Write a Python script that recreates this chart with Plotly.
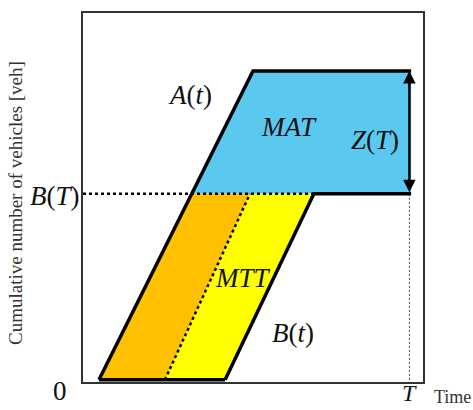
import numpy as np
import plotly.graph_objects as go

# ---- data (arbitrary schematic units) ----
A_t = [0.47, 5.00, 9.65]      # arrival curve A(t): times
A_n = [0.00, 8.37, 8.37]      # cumulative arrivals
B_t = [4.18, 6.79, 9.65]      # departure curve B(t): times
B_n = [0.00, 5.04, 5.04]      # cumulative departures
MTT_t = [2.41, 4.91]          # dotted separator (MTT boundary)
MTT_n = [0.00, 5.04]
T_val = 9.60                  # end time T
BT_val = 5.04                 # B(T)

cross_t = float(np.interp(BT_val, A_n[:2], A_t[:2]))  # where A(t) reaches B(T)

BLUE = "#5BC8F0"
ORANGE = "#FFC000"
YELLOW = "#FFFF00"
MATHFONT = dict(family="Liberation Serif", size=27, color="#111111")

fig = go.Figure()

# fills
fig.add_trace(go.Scatter(x=[cross_t, A_t[1], A_t[2], B_t[2]],
                         y=[BT_val, A_n[1], A_n[2], B_n[2]],
                         fill="toself", fillcolor=BLUE, mode="none", hoverinfo="skip"))
fig.add_trace(go.Scatter(x=[A_t[0], MTT_t[0], MTT_t[1], cross_t],
                         y=[0, MTT_n[0], MTT_n[1], BT_val],
                         fill="toself", fillcolor=ORANGE, mode="none", hoverinfo="skip"))
fig.add_trace(go.Scatter(x=[MTT_t[0], B_t[0], B_t[1], MTT_t[1]],
                         y=[MTT_n[0], B_n[0], B_n[1], MTT_n[1]],
                         fill="toself", fillcolor=YELLOW, mode="none", hoverinfo="skip"))

# dotted lines
fig.add_trace(go.Scatter(x=[0, B_t[1]], y=[BT_val, BT_val], mode="lines",
                         line=dict(color="black", width=2.5, dash="3px,3px")))
fig.add_trace(go.Scatter(x=MTT_t, y=MTT_n, mode="lines",
                         line=dict(color="black", width=2.5, dash="3px,3px")))
fig.add_trace(go.Scatter(x=[T_val, T_val], y=[0, BT_val], mode="lines",
                         line=dict(color="#444444", width=1, dash="2px,2px")))

# solid curves
fig.add_trace(go.Scatter(x=A_t, y=A_n, mode="lines",
                         line=dict(color="black", width=3.5)))
fig.add_trace(go.Scatter(x=B_t, y=B_n, mode="lines",
                         line=dict(color="black", width=3.5)))
fig.add_trace(go.Scatter(x=[A_t[0], B_t[0]], y=[0, 0], mode="lines",
                         line=dict(color="black", width=3.5)))

# double arrow Z(T)
fig.add_annotation(x=T_val, y=A_n[2], ax=T_val, ay=BT_val, xref="x", yref="y",
                   axref="x", ayref="y", showarrow=True, arrowhead=2,
                   arrowside="end+start", arrowwidth=2.5, arrowsize=1,
                   arrowcolor="black", standoff=0, startstandoff=0, text="")

def lab(txt, px, py, font=MATHFONT, angle=0):
    fig.add_annotation(text=txt, x=(px - 83) / 340, y=(382 - py) / 369,
                       xref="paper", yref="paper", showarrow=False,
                       xanchor="center", yanchor="middle", font=font,
                       textangle=angle)

lab("<i>A</i>(<i>t</i>)", 190, 95)
lab("<i>MAT</i>", 289, 127)
lab("<i>Z</i>(<i>T</i>)", 375, 140)
lab("<i>B</i>(<i>T</i>)", 55, 196)
lab("<i>MTT</i>", 243, 278)
lab("<i>B</i>(<i>t</i>)", 293, 333)
lab("0", 60, 391, font=dict(family="Liberation Serif", size=27, color="#111111"))
lab("<i>T</i>", 409, 393, font=dict(family="Liberation Serif", size=24, color="#111111"))
lab("Time", 452, 397, font=dict(family="Liberation Serif", size=18, color="#333333"))
lab("Cumulative number of vehicles [veh]", 15, 203,
    font=dict(family="Liberation Serif", size=19, color="#333333"), angle=-90)

fig.update_layout(
    width=473, height=410,
    margin=dict(l=83, r=50, t=13, b=28),
    paper_bgcolor="white", plot_bgcolor="white",
    showlegend=False,
    xaxis=dict(range=[0, 10], showgrid=False, zeroline=False, showticklabels=False,
               ticks="", showline=True, mirror=True, linecolor="#333333", linewidth=1.5),
    yaxis=dict(range=[-0.06, 9.94], showgrid=False, zeroline=False, showticklabels=False,
               ticks="", showline=True, mirror=True, linecolor="#333333", linewidth=1.5),
)

fig.write_html("out.html", config={"displayModeBar": False},
               post_script="document.body.style.margin='0px';")
